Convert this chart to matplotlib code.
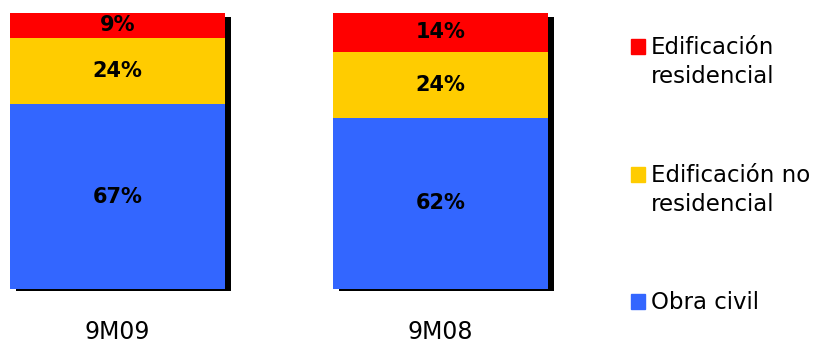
import matplotlib
matplotlib.use("Agg")
import matplotlib.pyplot as plt
from matplotlib.patches import Rectangle

# data
periods = ["9M09", "9M08"]
segments = ["Obra civil", "Edificación no\nresidencial", "Edificación\nresidencial"]
obra_civil = [67, 62]
no_residencial = [24, 24]
residencial = [9, 14]
colors = ["#3366FF", "#FFCC00", "#FF0000"]

series = [obra_civil, no_residencial, residencial]

W, H = 829, 343
fig = plt.figure(figsize=(W / 100, H / 100), dpi=100)

# axes in pixel terms: bars span x 10..548, y 13..289 (from top)
ax = fig.add_axes([10 / W, (H - 289) / H, 538 / W, 276 / H])
x = [0, 1]
width = 0.665
ax.set_xlim(-width / 2, 1 + width / 2)
ax.set_ylim(0, 100)
ax.axis("off")

# shadow: 6px right, from 4px below top to 2px below bottom
px_y = 100 / 276
dx = 6 / 323.5
ax.bar([xi + dx for xi in x], [100 + 2 * px_y - 4 * px_y] * 2, width=width,
       bottom=-2 * px_y, color="black", clip_on=False, zorder=1)

bottom = [0, 0]
for vals, c in zip(series, colors):
    ax.bar(x, vals, width=width, bottom=bottom, color=c, zorder=2)
    for xi, b, v in zip(x, bottom, vals):
        ax.text(xi, b + v / 2, f"{v}%", ha="center", va="center",
                fontsize=15, fontweight="bold", zorder=3)
    bottom = [b + v for b, v in zip(bottom, vals)]

for xi, p in zip(x, periods):
    ax.text(xi, -(339 - 289) * px_y, p, ha="center", va="baseline",
            fontsize=17, clip_on=False)

# legend (top to bottom)
leg_tops = [39, 167, 294]  # pixel y of square tops
for top, lab, c in zip(leg_tops, segments[::-1], colors[::-1]):
    fig.patches.append(Rectangle((631 / W, (H - top - 14.5) / H), 14.5 / W, 14.5 / H,
                                 transform=fig.transFigure, color=c))
    fig.text(651 / W, (H - top + 3) / H, lab, ha="left", va="top",
             fontsize=16.5, linespacing=1.35)

fig.savefig("out.png", dpi=100)
